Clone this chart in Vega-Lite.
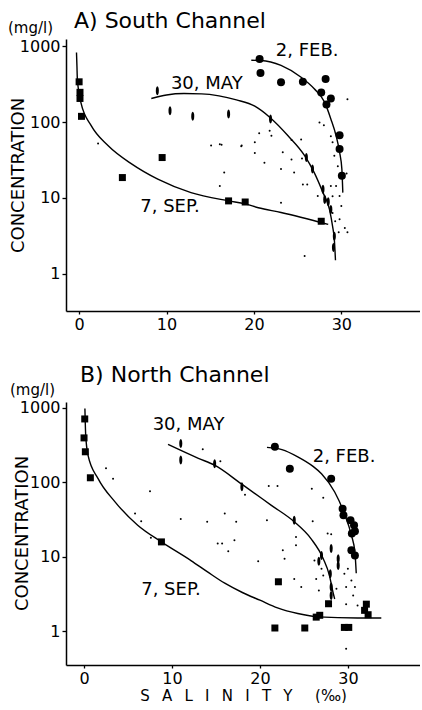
{
  "$schema": "https://vega.github.io/schema/vega-lite/v6.json",
  "background": "white",
  "padding": {"left": 7, "top": 10, "right": 0, "bottom": 0},
  "spacing": 32,
  "config": {
    "view": {"stroke": null},
    "font": "DejaVu Sans",
    "axis": {"domainColor": "black", "domainWidth": 1.5, "tickColor": "black", "tickWidth": 1.3, "tickSize": 4, "labelFontSize": 16, "labelColor": "black", "labelFont": "DejaVu Sans", "titleFont": "DejaVu Sans", "titleFontWeight": "normal", "titleColor": "black", "grid": false, "labelPadding": 2},
    "axisX": {"tickSize": 3},
    "title": {"anchor": "start", "frame": "group", "fontSize": 22, "fontWeight": "normal", "font": "DejaVu Sans", "color": "black"}
  },
  "datasets": {
    "a_lines": [
      {"date": "FEB", "salinity": 19.7, "concentration": 655},
      {"date": "FEB", "salinity": 20.8, "concentration": 650},
      {"date": "FEB", "salinity": 23.1, "concentration": 560},
      {"date": "FEB", "salinity": 25.4, "concentration": 390},
      {"date": "FEB", "salinity": 26.9, "concentration": 275},
      {"date": "FEB", "salinity": 28.1, "concentration": 182},
      {"date": "FEB", "salinity": 28.8, "concentration": 110},
      {"date": "FEB", "salinity": 29.4, "concentration": 66},
      {"date": "FEB", "salinity": 29.8, "concentration": 40},
      {"date": "FEB", "salinity": 30.06, "concentration": 24},
      {"date": "FEB", "salinity": 30.17, "concentration": 11.7},
      {"date": "MAY", "salinity": 8.26, "concentration": 205},
      {"date": "MAY", "salinity": 10.0, "concentration": 228},
      {"date": "MAY", "salinity": 12.0, "concentration": 238},
      {"date": "MAY", "salinity": 14.0, "concentration": 236},
      {"date": "MAY", "salinity": 16.0, "concentration": 222},
      {"date": "MAY", "salinity": 18.0, "concentration": 196},
      {"date": "MAY", "salinity": 20.1, "concentration": 162},
      {"date": "MAY", "salinity": 21.8, "concentration": 116},
      {"date": "MAY", "salinity": 23.9, "concentration": 66},
      {"date": "MAY", "salinity": 25.8, "concentration": 36},
      {"date": "MAY", "salinity": 26.9, "concentration": 21.5},
      {"date": "MAY", "salinity": 27.9, "concentration": 11.7},
      {"date": "MAY", "salinity": 28.65, "concentration": 7.0},
      {"date": "MAY", "salinity": 29.0, "concentration": 4.2},
      {"date": "MAY", "salinity": 29.2, "concentration": 2.8},
      {"date": "MAY", "salinity": 29.33, "concentration": 1.5},
      {"date": "SEP", "salinity": -0.3, "concentration": 830},
      {"date": "SEP", "salinity": -0.25, "concentration": 560},
      {"date": "SEP", "salinity": -0.2, "concentration": 370},
      {"date": "SEP", "salinity": 0.2, "concentration": 182},
      {"date": "SEP", "salinity": 1.4, "concentration": 89},
      {"date": "SEP", "salinity": 3.3, "concentration": 49},
      {"date": "SEP", "salinity": 6.0, "concentration": 28},
      {"date": "SEP", "salinity": 9.0, "concentration": 17.6},
      {"date": "SEP", "salinity": 12.8, "concentration": 11.7},
      {"date": "SEP", "salinity": 17.1, "concentration": 9.1},
      {"date": "SEP", "salinity": 19.0, "concentration": 8.3},
      {"date": "SEP", "salinity": 20.5, "concentration": 7.4},
      {"date": "SEP", "salinity": 23.1, "concentration": 6.4},
      {"date": "SEP", "salinity": 28.5, "concentration": 4.45}
    ],
    "a_points": [
      {"series": "FEB", "salinity": 20.65, "concentration": 680},
      {"series": "FEB", "salinity": 20.75, "concentration": 445},
      {"series": "FEB", "salinity": 23.1, "concentration": 335},
      {"series": "FEB", "salinity": 25.6, "concentration": 340},
      {"series": "FEB", "salinity": 28.2, "concentration": 370},
      {"series": "FEB", "salinity": 27.7, "concentration": 246},
      {"series": "FEB", "salinity": 28.8, "concentration": 205},
      {"series": "FEB", "salinity": 28.3, "concentration": 170},
      {"series": "FEB", "salinity": 29.8, "concentration": 67},
      {"series": "FEB", "salinity": 29.8, "concentration": 44},
      {"series": "FEB", "salinity": 30.06, "concentration": 19.5},
      {"series": "MAY", "salinity": 8.95, "concentration": 260},
      {"series": "MAY", "salinity": 10.4, "concentration": 141},
      {"series": "MAY", "salinity": 13.0, "concentration": 119},
      {"series": "MAY", "salinity": 17.1, "concentration": 128},
      {"series": "MAY", "salinity": 21.9, "concentration": 110},
      {"series": "MAY", "salinity": 26.0, "concentration": 34},
      {"series": "MAY", "salinity": 26.7, "concentration": 24},
      {"series": "MAY", "salinity": 27.9, "concentration": 13},
      {"series": "MAY", "salinity": 28.1, "concentration": 9.5},
      {"series": "MAY", "salinity": 28.5, "concentration": 8.9},
      {"series": "MAY", "salinity": 28.8, "concentration": 7.0},
      {"series": "MAY", "salinity": 29.2, "concentration": 3.1},
      {"series": "MAY", "salinity": 29.1, "concentration": 2.2},
      {"series": "SEP", "salinity": 0, "concentration": 340},
      {"series": "SEP", "salinity": 0.1, "concentration": 247},
      {"series": "SEP", "salinity": 0.1, "concentration": 205},
      {"series": "SEP", "salinity": 0.27, "concentration": 119},
      {"series": "SEP", "salinity": 4.95, "concentration": 18.5},
      {"series": "SEP", "salinity": 9.5, "concentration": 34},
      {"series": "SEP", "salinity": 17.1, "concentration": 9.1},
      {"series": "SEP", "salinity": 19.0, "concentration": 8.8},
      {"series": "SEP", "salinity": 27.7, "concentration": 4.9},
      {"series": "other", "salinity": 2.17, "concentration": 52},
      {"series": "other", "salinity": 15.1, "concentration": 49},
      {"series": "other", "salinity": 16.1, "concentration": 51},
      {"series": "other", "salinity": 18.6, "concentration": 49},
      {"series": "other", "salinity": 20.1, "concentration": 54},
      {"series": "other", "salinity": 20.6, "concentration": 71},
      {"series": "other", "salinity": 21.8, "concentration": 77},
      {"series": "other", "salinity": 22.0, "concentration": 66},
      {"series": "other", "salinity": 20.1, "concentration": 39},
      {"series": "other", "salinity": 23.3, "concentration": 40},
      {"series": "other", "salinity": 21.2, "concentration": 29},
      {"series": "other", "salinity": 25.4, "concentration": 59},
      {"series": "other", "salinity": 24.3, "concentration": 58},
      {"series": "other", "salinity": 24.3, "concentration": 32},
      {"series": "other", "salinity": 25.5, "concentration": 33},
      {"series": "other", "salinity": 16.6, "concentration": 21.5},
      {"series": "other", "salinity": 16.1, "concentration": 14.3},
      {"series": "other", "salinity": 23.1, "concentration": 24},
      {"series": "other", "salinity": 24.6, "concentration": 21.5},
      {"series": "other", "salinity": 25.6, "concentration": 15},
      {"series": "other", "salinity": 26.1, "concentration": 15},
      {"series": "other", "salinity": 23.1, "concentration": 8.6},
      {"series": "other", "salinity": 27.5, "concentration": 99},
      {"series": "other", "salinity": 28.0, "concentration": 91},
      {"series": "other", "salinity": 28.8, "concentration": 65},
      {"series": "other", "salinity": 29.0, "concentration": 54},
      {"series": "other", "salinity": 29.2, "concentration": 36},
      {"series": "other", "salinity": 29.6, "concentration": 26},
      {"series": "other", "salinity": 30.6, "concentration": 21},
      {"series": "other", "salinity": 29.4, "concentration": 14.3},
      {"series": "other", "salinity": 29.8, "concentration": 10.6},
      {"series": "other", "salinity": 30.0, "concentration": 7.8},
      {"series": "other", "salinity": 29.0, "concentration": 6.3},
      {"series": "other", "salinity": 29.3, "concentration": 4.9},
      {"series": "other", "salinity": 29.8, "concentration": 5.2},
      {"series": "other", "salinity": 30.4, "concentration": 4.0},
      {"series": "other", "salinity": 30.7, "concentration": 3.5},
      {"series": "other", "salinity": 29.7, "concentration": 3.5},
      {"series": "other", "salinity": 25.8, "concentration": 1.7},
      {"series": "other", "salinity": 30.7, "concentration": 200},
      {"series": "other", "salinity": 27.3, "concentration": 10.6},
      {"series": "other", "salinity": 28.8, "concentration": 14.3},
      {"series": "other", "salinity": 29.0, "concentration": 10.5},
      {"series": "other", "salinity": 16.3, "concentration": 50},
      {"series": "other", "salinity": 18.55, "concentration": 48}
    ],
    "a_labels": [
      {"label": "2, FEB.", "salinity": 22.5, "concentration": 870},
      {"label": "30, MAY", "salinity": 10.5, "concentration": 318},
      {"label": "7, SEP.", "salinity": 7.0, "concentration": 7.5}
    ],
    "b_lines": [
      {"date": "FEB", "salinity": 20.8, "concentration": 295},
      {"date": "FEB", "salinity": 22.5, "concentration": 275},
      {"date": "FEB", "salinity": 24.3, "concentration": 220},
      {"date": "FEB", "salinity": 26.0, "concentration": 165},
      {"date": "FEB", "salinity": 27.0, "concentration": 130},
      {"date": "FEB", "salinity": 28.5, "concentration": 74},
      {"date": "FEB", "salinity": 29.6, "concentration": 38},
      {"date": "FEB", "salinity": 30.4, "concentration": 19.5},
      {"date": "FEB", "salinity": 30.8, "concentration": 11.5},
      {"date": "FEB", "salinity": 30.95, "concentration": 6},
      {"date": "MAY", "salinity": 9.55, "concentration": 323},
      {"date": "MAY", "salinity": 13.0, "concentration": 210},
      {"date": "MAY", "salinity": 14.85, "concentration": 170},
      {"date": "MAY", "salinity": 17.9, "concentration": 95},
      {"date": "MAY", "salinity": 21.3, "concentration": 49},
      {"date": "MAY", "salinity": 23.9, "concentration": 29.5},
      {"date": "MAY", "salinity": 25.8, "concentration": 17.5},
      {"date": "MAY", "salinity": 27.2, "concentration": 9.4},
      {"date": "MAY", "salinity": 27.9, "concentration": 5.6},
      {"date": "MAY", "salinity": 28.3, "concentration": 3.35},
      {"date": "MAY", "salinity": 28.5, "concentration": 2.7},
      {"date": "SEP", "salinity": 0.1, "concentration": 980},
      {"date": "SEP", "salinity": 0.19, "concentration": 430},
      {"date": "SEP", "salinity": 0.45, "concentration": 232},
      {"date": "SEP", "salinity": 1.6, "concentration": 112},
      {"date": "SEP", "salinity": 3.5, "concentration": 55},
      {"date": "SEP", "salinity": 6.1, "concentration": 26.5},
      {"date": "SEP", "salinity": 8.8, "concentration": 15.8},
      {"date": "SEP", "salinity": 12.2, "concentration": 8.8},
      {"date": "SEP", "salinity": 14.0, "concentration": 6.3},
      {"date": "SEP", "salinity": 16.0, "concentration": 4.4},
      {"date": "SEP", "salinity": 18.0, "concentration": 3.3},
      {"date": "SEP", "salinity": 20.0, "concentration": 2.6},
      {"date": "SEP", "salinity": 22.0, "concentration": 2.05},
      {"date": "SEP", "salinity": 24.3, "concentration": 1.72},
      {"date": "SEP", "salinity": 26.6, "concentration": 1.55},
      {"date": "SEP", "salinity": 31.1, "concentration": 1.5},
      {"date": "SEP", "salinity": 33.8, "concentration": 1.5}
    ],
    "b_points": [
      {"series": "FEB", "salinity": 21.7, "concentration": 300},
      {"series": "FEB", "salinity": 23.4, "concentration": 152},
      {"series": "FEB", "salinity": 28.1, "concentration": 112},
      {"series": "FEB", "salinity": 29.4, "concentration": 44},
      {"series": "FEB", "salinity": 29.5, "concentration": 36},
      {"series": "FEB", "salinity": 30.3, "concentration": 31},
      {"series": "FEB", "salinity": 30.7, "concentration": 26.5},
      {"series": "FEB", "salinity": 30.45, "concentration": 20.5},
      {"series": "FEB", "salinity": 30.8, "concentration": 22},
      {"series": "FEB", "salinity": 30.4, "concentration": 12.2},
      {"series": "FEB", "salinity": 30.8, "concentration": 10.4},
      {"series": "MAY", "salinity": 11.0, "concentration": 331},
      {"series": "MAY", "salinity": 11.0, "concentration": 199},
      {"series": "MAY", "salinity": 14.85, "concentration": 178},
      {"series": "MAY", "salinity": 17.95, "concentration": 87},
      {"series": "MAY", "salinity": 23.9, "concentration": 31},
      {"series": "MAY", "salinity": 27.0, "concentration": 10.4},
      {"series": "MAY", "salinity": 28.1, "concentration": 12.9},
      {"series": "MAY", "salinity": 28.0, "concentration": 5.9},
      {"series": "MAY", "salinity": 28.1, "concentration": 3.9},
      {"series": "MAY", "salinity": 28.1, "concentration": 3.0},
      {"series": "MAY", "salinity": 28.9, "concentration": 9.4},
      {"series": "MAY", "salinity": 28.9, "concentration": 7.6},
      {"series": "MAY", "salinity": 26.7, "concentration": 8.7},
      {"series": "SEP", "salinity": 0.08, "concentration": 710},
      {"series": "SEP", "salinity": 0, "concentration": 395},
      {"series": "SEP", "salinity": 0.15, "concentration": 257},
      {"series": "SEP", "salinity": 0.72, "concentration": 115},
      {"series": "SEP", "salinity": 8.8, "concentration": 15.8},
      {"series": "SEP", "salinity": 22.1, "concentration": 4.6},
      {"series": "SEP", "salinity": 21.7, "concentration": 1.1},
      {"series": "SEP", "salinity": 25.1, "concentration": 1.1},
      {"series": "SEP", "salinity": 26.4, "concentration": 1.54},
      {"series": "SEP", "salinity": 26.8, "concentration": 1.63},
      {"series": "SEP", "salinity": 27.8, "concentration": 2.33},
      {"series": "SEP", "salinity": 29.6, "concentration": 1.12},
      {"series": "SEP", "salinity": 30.1, "concentration": 1.12},
      {"series": "SEP", "salinity": 32.1, "concentration": 2.3},
      {"series": "SEP", "salinity": 31.9, "concentration": 1.9},
      {"series": "SEP", "salinity": 32.3, "concentration": 1.66},
      {"series": "other", "salinity": 2.5, "concentration": 155},
      {"series": "other", "salinity": 3.3, "concentration": 112},
      {"series": "other", "salinity": 7.5, "concentration": 76},
      {"series": "other", "salinity": 6.5, "concentration": 30},
      {"series": "other", "salinity": 11.0, "concentration": 32},
      {"series": "other", "salinity": 13.5, "concentration": 277},
      {"series": "other", "salinity": 15.5, "concentration": 192},
      {"series": "other", "salinity": 14.0, "concentration": 29.5},
      {"series": "other", "salinity": 16.0, "concentration": 38},
      {"series": "other", "salinity": 17.3, "concentration": 29.5},
      {"series": "other", "salinity": 15.2, "concentration": 15},
      {"series": "other", "salinity": 15.7, "concentration": 15},
      {"series": "other", "salinity": 17.1, "concentration": 16.6},
      {"series": "other", "salinity": 16.4, "concentration": 11.8},
      {"series": "other", "salinity": 19.8, "concentration": 8.7},
      {"series": "other", "salinity": 21.0, "concentration": 89},
      {"series": "other", "salinity": 22.0, "concentration": 89},
      {"series": "other", "salinity": 20.8, "concentration": 31},
      {"series": "other", "salinity": 25.9, "concentration": 82},
      {"series": "other", "salinity": 26.0, "concentration": 30},
      {"series": "other", "salinity": 27.2, "concentration": 62},
      {"series": "other", "salinity": 27.7, "concentration": 20.5},
      {"series": "other", "salinity": 24.1, "concentration": 18.4},
      {"series": "other", "salinity": 24.1, "concentration": 14.2},
      {"series": "other", "salinity": 22.6, "concentration": 12.2},
      {"series": "other", "salinity": 22.8, "concentration": 9.4},
      {"series": "other", "salinity": 24.7, "concentration": 3.9},
      {"series": "other", "salinity": 23.9, "concentration": 5.0},
      {"series": "other", "salinity": 26.4, "concentration": 5.0},
      {"series": "other", "salinity": 26.7, "concentration": 3.5},
      {"series": "other", "salinity": 28.7, "concentration": 3.7},
      {"series": "other", "salinity": 29.6, "concentration": 5.9},
      {"series": "other", "salinity": 30.0, "concentration": 6.9},
      {"series": "other", "salinity": 30.4, "concentration": 4.8},
      {"series": "other", "salinity": 29.8, "concentration": 3.9},
      {"series": "other", "salinity": 30.8, "concentration": 3.9},
      {"series": "other", "salinity": 30.6, "concentration": 3.0},
      {"series": "other", "salinity": 29.8, "concentration": 2.3},
      {"series": "other", "salinity": 27.2, "concentration": 5.6},
      {"series": "other", "salinity": 27.0, "concentration": 6.9},
      {"series": "other", "salinity": 29.8, "concentration": 0.58},
      {"series": "other", "salinity": 31.1, "concentration": 2.2},
      {"series": "other", "salinity": 26.2, "concentration": 8.9},
      {"series": "other", "salinity": 28.1, "concentration": 20},
      {"series": "other", "salinity": 7.6, "concentration": 18},
      {"series": "other", "salinity": 5.8, "concentration": 38},
      {"series": "other", "salinity": 18.3, "concentration": 68}
    ],
    "b_labels": [
      {"label": "30, MAY", "salinity": 7.8, "concentration": 590},
      {"label": "2, FEB.", "salinity": 26.0, "concentration": 220},
      {"label": "7, SEP.", "salinity": 6.5, "concentration": 3.6}
    ]
  },
  "vconcat": [
    {
      "width": 354,
      "height": 272,
      "title": {"text": "A) South Channel", "dx": 8, "offset": -12},
      "layer": [
        {
          "data": {"name": "a_lines"},
          "mark": {"type": "line", "interpolate": "monotone", "color": "black", "strokeWidth": 1.4},
          "encoding": {
            "x": {"field": "salinity", "type": "quantitative", "scale": {"domain": [-1.5, 39], "nice": false, "zero": false}, "axis": {"values": [0, 10, 20, 30], "format": "d", "title": null}},
            "y": {"field": "concentration", "type": "quantitative", "scale": {"type": "log", "domain": [0.32, 1250], "nice": false}, "axis": {"values": [1, 10, 100, 1000], "format": "d", "title": "CONCENTRATION", "titleFontSize": 18, "titleX": -48, "titleY": 136, "titleAngle": -90, "titleAlign": "center", "titleBaseline": "middle"}},
            "detail": {"field": "date"}
          }
        },
        {
          "data": {"name": "a_points"},
          "transform": [{"filter": "datum.series === 'other'"}],
          "mark": {"type": "circle", "color": "black", "opacity": 1, "size": 4},
          "encoding": {"x": {"field": "salinity", "type": "quantitative"}, "y": {"field": "concentration", "type": "quantitative"}}
        },
        {
          "data": {"name": "a_points"},
          "transform": [{"filter": "datum.series === 'FEB'"}],
          "mark": {"type": "circle", "color": "black", "opacity": 1, "size": 64},
          "encoding": {"x": {"field": "salinity", "type": "quantitative"}, "y": {"field": "concentration", "type": "quantitative"}}
        },
        {
          "data": {"name": "a_points"},
          "transform": [{"filter": "datum.series === 'MAY'"}],
          "mark": {"type": "point", "filled": true, "color": "black", "opacity": 1, "size": 81, "shape": "M0,-1C0.45,-1 0.45,1 0,1C-0.45,1 -0.45,-1 0,-1Z"},
          "encoding": {"x": {"field": "salinity", "type": "quantitative"}, "y": {"field": "concentration", "type": "quantitative"}}
        },
        {
          "data": {"name": "a_points"},
          "transform": [{"filter": "datum.series === 'SEP'"}],
          "mark": {"type": "square", "color": "black", "opacity": 1, "size": 49},
          "encoding": {"x": {"field": "salinity", "type": "quantitative"}, "y": {"field": "concentration", "type": "quantitative"}}
        },
        {
          "data": {"name": "a_labels"},
          "mark": {"type": "text", "align": "left", "baseline": "middle", "fontSize": 18, "color": "black"},
          "encoding": {"x": {"field": "salinity", "type": "quantitative"}, "y": {"field": "concentration", "type": "quantitative"}, "text": {"field": "label"}}
        },
        {
          "data": {"values": [{}]},
          "mark": {"type": "text", "align": "right", "baseline": "middle", "fontSize": 15, "color": "black", "dx": -13, "dy": -11},
          "encoding": {"x": {"datum": -1.5, "type": "quantitative"}, "y": {"datum": 1250, "type": "quantitative"}, "text": {"value": "(mg/l)"}}
        }
      ]
    },
    {
      "width": 354,
      "height": 263,
      "title": {"text": "B) North Channel", "dx": 14, "offset": -4},
      "layer": [
        {
          "data": {"name": "b_lines"},
          "mark": {"type": "line", "interpolate": "monotone", "color": "black", "strokeWidth": 1.4},
          "encoding": {
            "x": {"field": "salinity", "type": "quantitative", "scale": {"domain": [-2.05, 38.2], "nice": false, "zero": false}, "axis": {"values": [0, 10, 20, 30], "format": "d", "title": "S\u2002\u00a0A\u2002\u00a0L\u2002\u00a0I\u2002\u00a0N\u2002\u00a0I\u2002\u00a0T\u2002\u00a0Y\u2002\u2002\u2002(‰)", "titleFontSize": 15, "titlePadding": 2}},
            "y": {"field": "concentration", "type": "quantitative", "scale": {"type": "log", "domain": [0.35, 1200], "nice": false}, "axis": {"values": [1, 10, 100, 1000], "format": "d", "title": "CONCENTRATION", "titleFontSize": 18, "titleX": -44, "titleY": 131, "titleAngle": -90, "titleAlign": "center", "titleBaseline": "middle"}},
            "detail": {"field": "date"}
          }
        },
        {
          "data": {"name": "b_points"},
          "transform": [{"filter": "datum.series === 'other'"}],
          "mark": {"type": "circle", "color": "black", "opacity": 1, "size": 4},
          "encoding": {"x": {"field": "salinity", "type": "quantitative"}, "y": {"field": "concentration", "type": "quantitative"}}
        },
        {
          "data": {"name": "b_points"},
          "transform": [{"filter": "datum.series === 'FEB'"}],
          "mark": {"type": "circle", "color": "black", "opacity": 1, "size": 64},
          "encoding": {"x": {"field": "salinity", "type": "quantitative"}, "y": {"field": "concentration", "type": "quantitative"}}
        },
        {
          "data": {"name": "b_points"},
          "transform": [{"filter": "datum.series === 'MAY'"}],
          "mark": {"type": "point", "filled": true, "color": "black", "opacity": 1, "size": 81, "shape": "M0,-1C0.45,-1 0.45,1 0,1C-0.45,1 -0.45,-1 0,-1Z"},
          "encoding": {"x": {"field": "salinity", "type": "quantitative"}, "y": {"field": "concentration", "type": "quantitative"}}
        },
        {
          "data": {"name": "b_points"},
          "transform": [{"filter": "datum.series === 'SEP'"}],
          "mark": {"type": "square", "color": "black", "opacity": 1, "size": 49},
          "encoding": {"x": {"field": "salinity", "type": "quantitative"}, "y": {"field": "concentration", "type": "quantitative"}}
        },
        {
          "data": {"name": "b_labels"},
          "mark": {"type": "text", "align": "left", "baseline": "middle", "fontSize": 18, "color": "black"},
          "encoding": {"x": {"field": "salinity", "type": "quantitative"}, "y": {"field": "concentration", "type": "quantitative"}, "text": {"field": "label"}}
        },
        {
          "data": {"values": [{}]},
          "mark": {"type": "text", "align": "right", "baseline": "middle", "fontSize": 15, "color": "black", "dx": -11, "dy": -12},
          "encoding": {"x": {"datum": -2.05, "type": "quantitative"}, "y": {"datum": 1200, "type": "quantitative"}, "text": {"value": "(mg/l)"}}
        }
      ]
    }
  ]
}
